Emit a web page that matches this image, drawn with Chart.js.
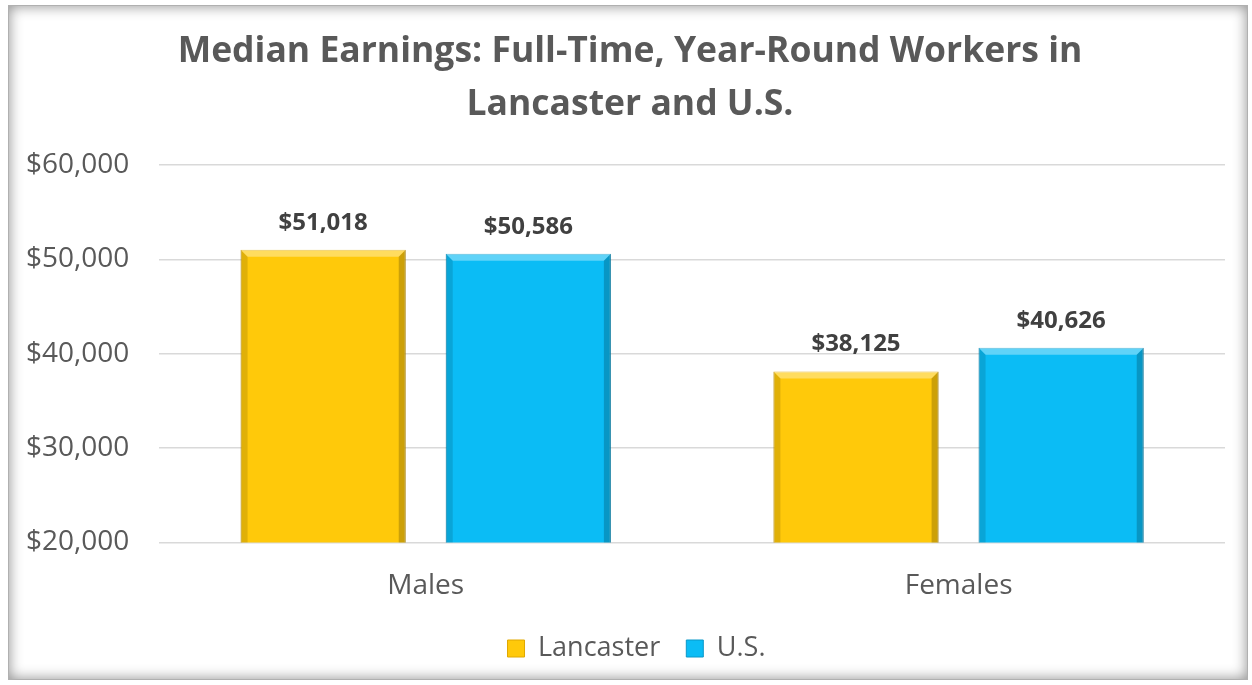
<!DOCTYPE html>
<html>
<head>
<meta charset="utf-8">
<script src="https://cdn.jsdelivr.net/npm/chart.js@4.4.0/dist/chart.umd.min.js"></script>
<style>
  html, body { margin: 0; padding: 0; background: #fff; }
  #wrap { position: relative; width: 1252px; height: 685px; }
  #frame {
    position: absolute; left: 8px; top: 5px; width: 1238px; height: 673px;
    border: 1px solid #b0b0b0;
    box-shadow: inset 0 0 14px rgba(0,0,0,0.45);
    pointer-events: none;
  }
</style>
</head>
<body>
<div id="wrap">
  <canvas id="chart" width="1252" height="685"></canvas>
  <div id="frame"></div>
</div>
<script>
// data
const categories = ["Males", "Females"];
const lancaster = [51018, 38125];
const us = [50586, 40626];
const seriesNames = ["Lancaster", "U.S."];
const yTicks = [20000, 30000, 40000, 50000, 60000];
const titleLines = ["Median Earnings: Full-Time, Year-Round Workers in", "Lancaster and U.S."];

const fmt = v => "$" + v.toLocaleString("en-US");
const grey = "#595959";

// title centred on the whole frame, not on the padded area
const bigTitle = {
  id: "bigTitle",
  afterDraw(chart) {
    const ctx = chart.ctx;
    ctx.save();
    ctx.font = "bold 35.5px 'Open Sans'";
    ctx.fillStyle = grey;
    ctx.textAlign = "center";
    ctx.textBaseline = "middle";
    titleLines.forEach((t, i) => ctx.fillText(t, 630, 52 + i * 53));
    ctx.restore();
  }
};

// legend sits a bit right of the padded centre in the original
const legendShift = {
  id: "legendShift",
  afterLayout(chart) {
    chart.legend.left += 26;
    chart.legend.right += 26;
  }
};

// little bevel on the bars, like the office 3D look
const bevel = {
  id: "bevel",
  afterDatasetsDraw(chart) {
    const ctx = chart.ctx;
    const bottom = chart.chartArea.bottom;
    chart.data.datasets.forEach((ds, i) => {
      chart.getDatasetMeta(i).data.forEach(bar => {
        const l = bar.x - bar.width / 2, r = bar.x + bar.width / 2;
        const t = bar.y, b = Math.min(bar.base, bottom), e = 7;
        ctx.save();
        ctx.fillStyle = "rgba(255,255,255,0.35)";
        ctx.beginPath();
        ctx.moveTo(l, t); ctx.lineTo(r, t); ctx.lineTo(r - e, t + e); ctx.lineTo(l + e, t + e);
        ctx.closePath(); ctx.fill();
        ctx.fillStyle = "rgba(0,0,0,0.12)";
        ctx.beginPath();
        ctx.moveTo(l, t); ctx.lineTo(l + e, t + e); ctx.lineTo(l + e, b); ctx.lineTo(l, b);
        ctx.closePath(); ctx.fill();
        ctx.fillStyle = "rgba(0,0,0,0.2)";
        ctx.beginPath();
        ctx.moveTo(r, t); ctx.lineTo(r - e, t + e); ctx.lineTo(r - e, b); ctx.lineTo(r, b);
        ctx.closePath(); ctx.fill();
        ctx.restore();
      });
    });
  }
};

// value labels over the bars
const valueLabels = {
  id: "valueLabels",
  afterDatasetsDraw(chart) {
    const ctx = chart.ctx;
    ctx.save();
    ctx.font = "bold 24px 'Open Sans'";
    ctx.fillStyle = "#404040";
    ctx.textAlign = "center";
    ctx.textBaseline = "middle";
    chart.data.datasets.forEach((ds, i) => {
      chart.getDatasetMeta(i).data.forEach((bar, j) => {
        ctx.fillText(fmt(ds.data[j]), bar.x, bar.y - 27);
      });
    });
    ctx.restore();
  }
};

new Chart(document.getElementById("chart").getContext("2d"), {
  type: "bar",
  data: {
    labels: categories,
    datasets: [
      { label: seriesNames[0], data: lancaster, backgroundColor: "#FFC90A", borderColor: "#E0A800", borderWidth: 1 },
      { label: seriesNames[1], data: us, backgroundColor: "#0BBCF5", borderColor: "#0A98C8", borderWidth: 1 }
    ]
  },
  options: {
    responsive: false,
    animation: false,
    categoryPercentage: 0.77,
    barPercentage: 0.805,
    layout: { padding: { left: -4, right: 27, top: 165, bottom: 13 } },
    scales: {
      y: {
        min: yTicks[0],
        max: yTicks[yTicks.length - 1],
        afterBuildTicks: axis => { axis.ticks = yTicks.map(v => ({ value: v })); },
        grid: { color: "#d9d9d9", lineWidth: 1.5, drawTicks: false },
        border: { display: false },
        ticks: { callback: v => fmt(v), color: grey, font: { family: "'Open Sans'", size: 28 }, padding: 30 }
      },
      x: {
        grid: { display: false },
        border: { display: false },
        ticks: { color: grey, font: { family: "'Open Sans'", size: 28 }, padding: 19 },
        afterFit: axis => { axis.height -= 13; }
      }
    },
    plugins: {
      title: { display: false },
      legend: {
        position: "bottom",
        labels: { color: grey, font: { family: "'Open Sans'", size: 27 }, boxWidth: 17, boxHeight: 17, padding: 26 }
      },
      tooltip: { enabled: false }
    }
  },
  plugins: [bevel, valueLabels, bigTitle, legendShift]
});
</script>
</body>
</html>
